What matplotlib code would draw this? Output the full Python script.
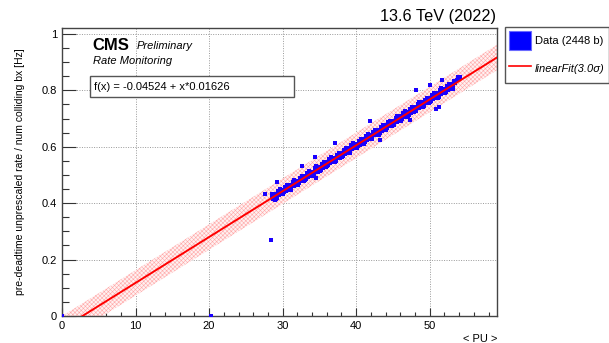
import matplotlib
matplotlib.use("Agg")
import matplotlib.pyplot as plt
from matplotlib.lines import Line2D
from matplotlib.patches import Patch, Rectangle
import numpy as np

plt.rcParams["font.family"] = ["Liberation Sans", "DejaVu Sans"]
plt.rcParams["hatch.linewidth"] = 0.4

# fit parameters (from the fit box)
intercept = -0.04524
slope = 0.01626
band_halfwidth = 0.045  # 3 sigma band
x_max = 59.15
y_max = 1.021

# data points
pu = [
    28.5, 28.7, 28.9, 29.0, 29.2, 29.4, 29.5, 29.7, 29.9, 30.0, 30.2, 30.4,
    30.5, 30.7, 30.9, 31.0, 31.2, 31.4, 31.5, 31.7, 31.9, 32.0, 32.2, 32.4,
    32.5, 32.7, 32.9, 33.0, 33.2, 33.4, 33.5, 33.7, 33.9, 34.0, 34.2, 34.4,
    34.5, 34.7, 34.9, 35.0, 35.2, 35.4, 35.5, 35.7, 35.9, 36.0, 36.2, 36.4,
    36.5, 36.7, 36.9, 37.0, 37.2, 37.4, 37.5, 37.7, 37.9, 38.0, 38.2, 38.4,
    38.5, 38.7, 38.9, 39.0, 39.2, 39.4, 39.5, 39.7, 39.9, 40.0, 40.2, 40.4,
    40.5, 40.7, 40.9, 41.0, 41.2, 41.4, 41.5, 41.7, 41.9, 42.0, 42.2, 42.4,
    42.5, 42.7, 42.9, 43.0, 43.2, 43.4, 43.5, 43.7, 43.9, 44.0, 44.2, 44.4,
    44.5, 44.7, 44.9, 45.0, 45.2, 45.4, 45.5, 45.7, 45.9, 46.0, 46.2, 46.4,
    46.5, 46.7, 46.9, 47.0, 47.2, 47.4, 47.5, 47.7, 47.9, 48.0, 48.2, 48.4,
    48.5, 48.7, 48.9, 49.0, 49.2, 49.4, 49.5, 49.7, 49.9, 50.0, 50.2, 50.4,
    50.5, 50.7, 50.9, 51.0, 51.2, 51.4, 51.5, 51.7, 51.9, 52.0, 52.2, 52.4,
    52.5, 52.7, 52.9, 53.0, 53.2, 53.4, 53.5, 53.7, 53.9,
    28.6, 29.1, 29.6, 30.1, 30.6, 31.1, 31.6, 32.1, 32.6, 33.1, 33.6, 34.1,
    34.6, 35.1, 35.6, 36.1, 36.6, 37.1, 37.6, 38.1, 38.6, 39.1, 39.6, 40.1,
    40.6, 41.1, 41.6, 42.1, 42.6, 43.1, 43.6, 44.1, 44.6, 45.1, 45.6, 46.1,
    46.6, 47.1, 47.6, 48.1, 48.6, 49.1, 49.6, 50.1, 50.6, 51.1, 51.6, 52.1,
    52.6, 53.1,
    28.85, 29.35, 29.85, 30.35, 30.85, 31.35, 31.85, 32.35, 32.85, 33.35, 33.85, 34.35,
    34.85, 35.35, 35.85, 36.35, 36.85, 37.35, 37.85, 38.35, 38.85, 39.35, 39.85, 40.35,
    40.85, 41.35, 41.85, 42.35, 42.85, 43.35, 43.85, 44.35, 44.85, 45.35, 45.85, 46.35,
    46.85, 47.35, 47.85, 48.35, 48.85, 49.35, 49.85, 50.35, 50.85, 51.35, 51.85, 52.35,
    52.85, 53.35, 54.1, 53.8, 54.0,
    # outliers
    28.4, 27.6, 29.3, 32.7, 34.4, 37.1, 41.9, 48.1, 50.1, 51.7, 51.3, 50.9,
    47.3, 43.3, 34.6, 29.0, 0.0, 20.3,
]
rate = [
    0.423, 0.414, 0.428, 0.431, 0.420, 0.437, 0.429, 0.444, 0.433, 0.447, 0.438, 0.452,
    0.444, 0.457, 0.449, 0.463, 0.452, 0.468, 0.462, 0.474, 0.466, 0.480, 0.471, 0.485,
    0.478, 0.490, 0.484, 0.496, 0.487, 0.501, 0.494, 0.505, 0.500, 0.512, 0.503, 0.518,
    0.510, 0.522, 0.515, 0.529, 0.519, 0.533, 0.526, 0.538, 0.533, 0.545, 0.536, 0.550,
    0.543, 0.555, 0.548, 0.561, 0.551, 0.566, 0.559, 0.571, 0.564, 0.578, 0.568, 0.583,
    0.575, 0.587, 0.581, 0.594, 0.584, 0.599, 0.591, 0.603, 0.597, 0.610, 0.601, 0.615,
    0.607, 0.620, 0.613, 0.627, 0.617, 0.632, 0.624, 0.636, 0.629, 0.643, 0.633, 0.648,
    0.640, 0.652, 0.646, 0.659, 0.649, 0.664, 0.656, 0.668, 0.662, 0.676, 0.665, 0.681,
    0.672, 0.684, 0.679, 0.692, 0.681, 0.697, 0.689, 0.701, 0.695, 0.708, 0.697, 0.713,
    0.705, 0.717, 0.711, 0.724, 0.713, 0.729, 0.721, 0.734, 0.727, 0.741, 0.730, 0.745,
    0.737, 0.750, 0.744, 0.757, 0.746, 0.762, 0.754, 0.766, 0.760, 0.773, 0.762, 0.778,
    0.770, 0.782, 0.776, 0.789, 0.778, 0.794, 0.786, 0.799, 0.792, 0.806, 0.795, 0.811,
    0.802, 0.815, 0.809, 0.822, 0.811, 0.827, 0.830, 0.838, 0.844,
    0.433, 0.416, 0.449, 0.432, 0.465, 0.448, 0.482, 0.465, 0.498, 0.481, 0.514, 0.497,
    0.530, 0.513, 0.547, 0.530, 0.563, 0.546, 0.579, 0.562, 0.595, 0.578, 0.612, 0.595,
    0.628, 0.611, 0.644, 0.627, 0.660, 0.643, 0.677, 0.660, 0.693, 0.676, 0.709, 0.692,
    0.725, 0.708, 0.742, 0.725, 0.758, 0.741, 0.774, 0.757, 0.790, 0.773, 0.807, 0.790,
    0.823, 0.806,
    0.415, 0.442, 0.431, 0.458, 0.447, 0.475, 0.464, 0.491, 0.480, 0.507, 0.496, 0.523,
    0.512, 0.540, 0.529, 0.556, 0.545, 0.572, 0.561, 0.588, 0.577, 0.605, 0.594, 0.621,
    0.610, 0.637, 0.626, 0.653, 0.642, 0.670, 0.659, 0.686, 0.675, 0.702, 0.691, 0.718,
    0.707, 0.735, 0.724, 0.751, 0.740, 0.767, 0.756, 0.783, 0.772, 0.800, 0.789, 0.816,
    0.805, 0.832, 0.849, 0.846, 0.840,
    0.270, 0.431, 0.474, 0.533, 0.565, 0.613, 0.691, 0.800, 0.820, 0.837, 0.740, 0.734,
    0.695, 0.624, 0.488, 0.411, 0.0, 0.0,
]

fig = plt.figure(figsize=(6.09, 3.43), dpi=100)
ax = fig.add_axes([62 / 609, 27 / 343, 435 / 609, 288 / 343])

# fit line and 3 sigma band
xf = np.array([0.0, x_max])
yf = intercept + slope * xf
ax.fill_between(xf, yf - band_halfwidth, yf + band_halfwidth, facecolor="#fff2f2",
                edgecolor="#ffa8a8", hatch="xxxxxxxx", linewidth=0, zorder=2)
ax.scatter(pu, rate, marker="s", s=6, color="#1a00ff", linewidths=0, zorder=3)
ax.plot(xf, yf, color="red", linewidth=1.4, zorder=4)

ax.set_xlim(0, x_max)
ax.set_ylim(0, y_max)
ax.set_xticks([0, 10, 20, 30, 40, 50])
ax.set_xticks(np.arange(0, 59, 2), minor=True)
ax.set_yticks([0, 0.2, 0.4, 0.6, 0.8, 1.0])
ax.set_yticklabels(["0", "0.2", "0.4", "0.6", "0.8", "1"])
ax.set_yticks(np.arange(0, 1.01, 0.05), minor=True)
ax.tick_params(axis="both", which="both", direction="in", labelsize=8,
               color="#333333", width=0.8)
ax.tick_params(axis="y", which="major", length=10)
ax.tick_params(axis="y", which="minor", length=5)
ax.tick_params(axis="x", which="major", length=6)
ax.tick_params(axis="x", which="minor", length=3)
ax.grid(True, which="major", linestyle=(0, (1, 1.5)), color="#999999", linewidth=0.7)
for sp in ax.spines.values():
    sp.set_color("#444444")
    sp.set_linewidth(1.0)

ax.set_ylabel("pre-deadtime unprescaled rate / num colliding bx [Hz]", fontsize=7.5,
              labelpad=12)
ax.set_xlabel("< PU >", fontsize=8, loc="right", labelpad=2)

# CMS labels
fig.text(92 / 609, 1 - 50 / 343, "CMS", fontsize=12, fontweight="bold")
fig.text(137 / 609, 1 - 49 / 343, "Preliminary", fontsize=8, fontstyle="italic")
fig.text(93 / 609, 1 - 64 / 343, "Rate Monitoring", fontsize=8, fontstyle="italic")
fig.text(496 / 609, 1 - 21 / 343, "13.6 TeV (2022)", fontsize=11.7, ha="right")

# fit result box
box = Rectangle((90 / 609, 1 - 97 / 343), 204 / 609, 21 / 343, transform=fig.transFigure,
                facecolor="white", edgecolor="#555555", linewidth=1.0, zorder=5)
fig.patches.append(box)
fig.text(94 / 609, 1 - 86.5 / 343, "f(x) = -0.04524 + x*0.01626", fontsize=8,
         va="center", zorder=6)

handles = [Patch(facecolor="#0000ff", edgecolor="#6a6aff", linewidth=0.8),
           Line2D([0], [0], color="red", linewidth=1.2)]
leg = fig.legend(handles, ["Data (2448 b)", "linearFit(3.0\u03c3)"],
                 loc="upper left", bbox_to_anchor=(505 / 609, 1 - 27 / 343),
                 fontsize=8, fancybox=False, edgecolor="#555555", framealpha=1,
                 borderaxespad=0, handlelength=1.9, handleheight=2.2,
                 handletextpad=0.4, labelspacing=0.85, borderpad=0.4)
leg.get_frame().set_linewidth(1.0)
leg.get_texts()[1].set_fontstyle("italic")

fig.savefig("out.png", dpi=100)
